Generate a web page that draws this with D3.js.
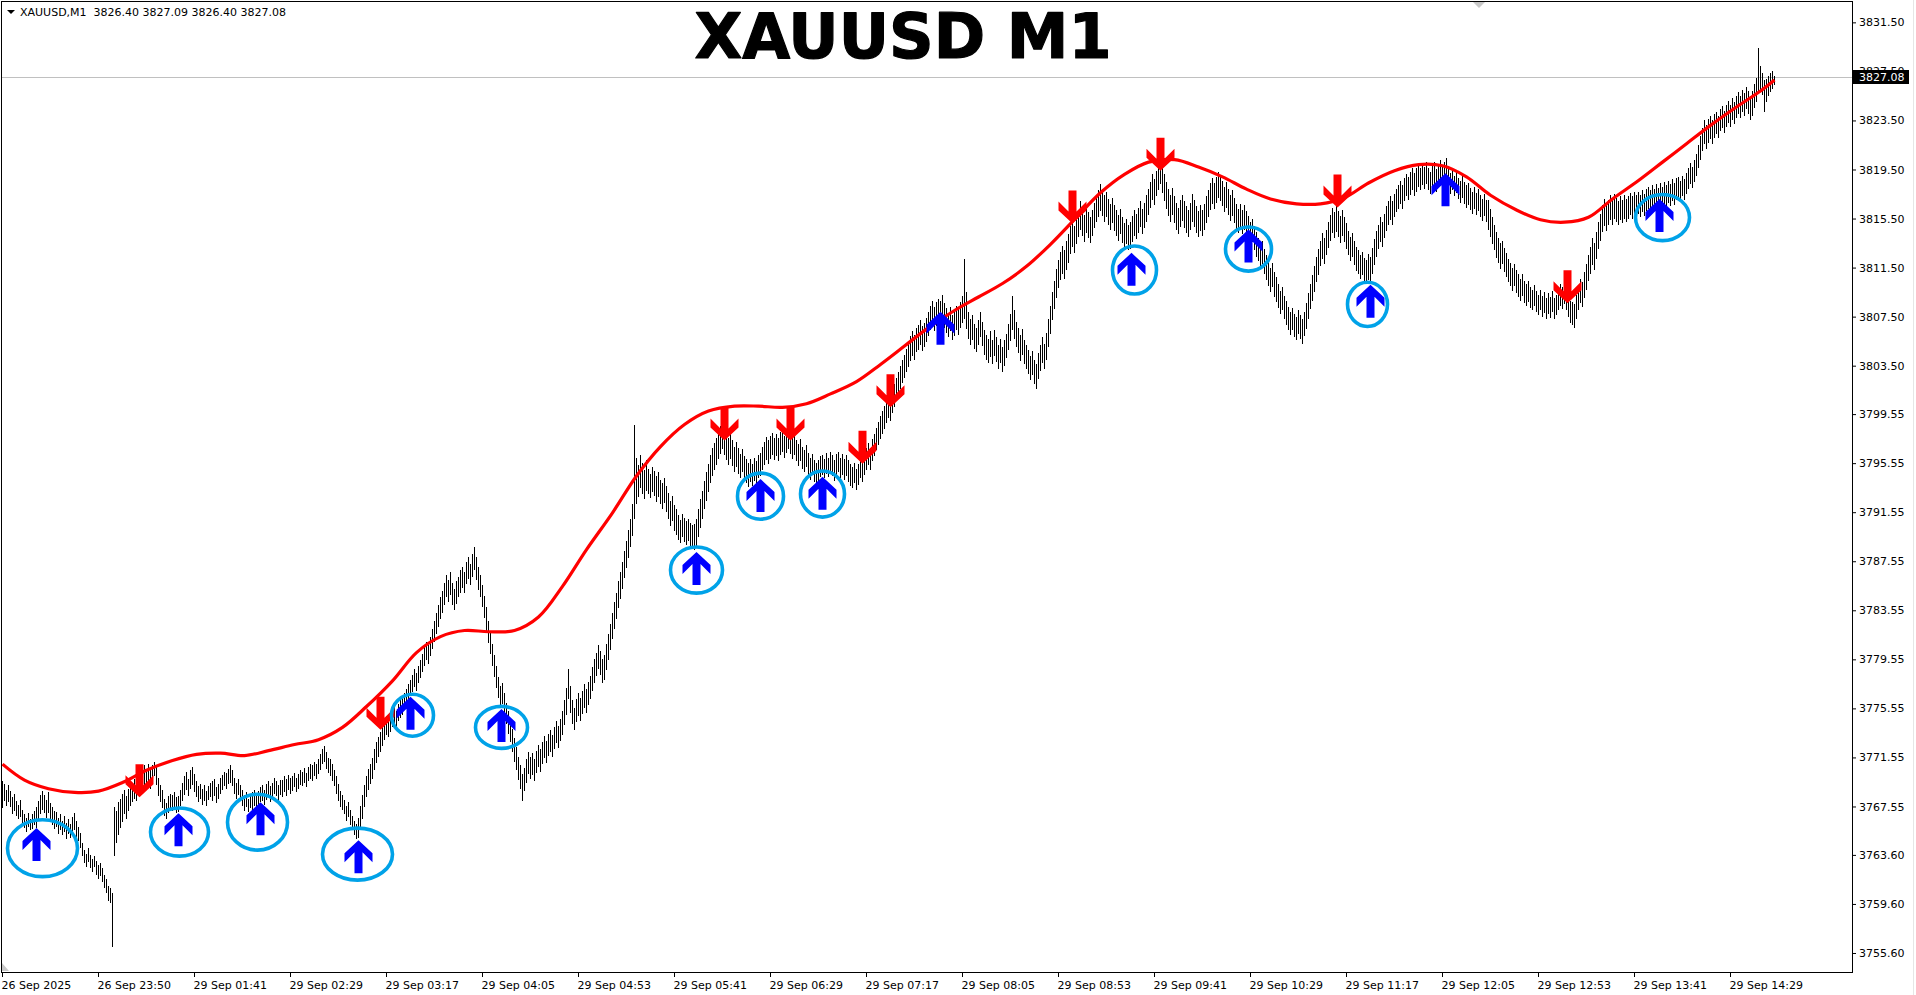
<!DOCTYPE html>
<html lang="en">
<head>
<meta charset="UTF-8">
<title>XAUUSD M1</title>
<script src="https://cdnjs.cloudflare.com/ajax/libs/d3/7.8.5/d3.min.js"></script>
<style>
  html, body { margin: 0; padding: 0; background: #fff; overflow: hidden; }
  svg { display: block; }
  text { font-family: 'DejaVu Sans', sans-serif; }
</style>
</head>
<body>
<svg id="chart" width="1916" height="995"></svg>
<script>
const symbol = "XAUUSD,M1";
const title = "XAUUSD M1";
const lastQuote = [3826.40, 3827.09, 3826.40, 3827.08]; // O H L C of last bar

const timeLabels = ["26 Sep 2025", "26 Sep 23:50", "29 Sep 01:41", "29 Sep 02:29", "29 Sep 03:17",
  "29 Sep 04:05", "29 Sep 04:53", "29 Sep 05:41", "29 Sep 06:29", "29 Sep 07:17", "29 Sep 08:05",
  "29 Sep 08:53", "29 Sep 09:41", "29 Sep 10:29", "29 Sep 11:17", "29 Sep 12:05", "29 Sep 12:53",
  "29 Sep 13:41", "29 Sep 14:29"];
const barsPerLabel = 48;

const priceTicks = [3831.50, 3827.50, 3823.50, 3819.50, 3815.50, 3811.50, 3807.50, 3803.50,
  3799.55, 3795.55, 3791.55, 3787.55, 3783.55, 3779.55, 3775.55, 3771.55, 3767.55,
  3763.60, 3759.60, 3755.60];

// M1 bar lows / highs, one entry per minute bar
const lows = [
3767.4,3768.0,3767.6,3767.9,3767.5,3766.9,3767.2,3766.8,3766.5,3766.7,
3766.2,3765.8,3765.5,3765.9,3765.6,3765.7,3766.0,3765.8,3766.4,3766.9,
3767.3,3767.0,3766.6,3767.0,3766.5,3766.0,3765.7,3765.9,3765.3,3765.6,
3765.2,3765.5,3764.9,3765.3,3765.0,3765.3,3765.6,3765.1,3764.7,3764.2,
3763.5,3762.9,3762.6,3763.0,3762.5,3762.2,3762.6,3762.0,3761.6,3761.9,
3761.4,3760.9,3760.5,3759.8,3759.7,3756.1,3763.5,3764.6,3765.2,3765.8,
3766.3,3766.9,3766.5,3767.2,3767.6,3767.9,3768.2,3768.0,3768.4,3768.6,
3768.8,3769.2,3768.9,3769.4,3769.0,3769.5,3770.0,3769.3,3768.4,3767.9,
3767.4,3766.8,3766.5,3767.0,3767.3,3767.2,3767.5,3767.0,3767.1,3767.6,
3768.0,3768.5,3768.9,3768.4,3769.0,3769.3,3768.7,3768.3,3767.9,3768.2,
3767.7,3768.0,3767.6,3768.1,3768.3,3768.0,3768.4,3767.8,3768.2,3768.6,
3768.9,3769.2,3769.0,3769.4,3769.5,3769.2,3768.6,3768.2,3768.5,3768.0,
3767.6,3767.2,3767.5,3767.1,3767.4,3767.3,3767.6,3767.2,3767.5,3767.9,
3768.0,3767.7,3768.1,3768.3,3767.9,3768.2,3768.6,3768.4,3768.0,3768.5,
3768.3,3768.7,3768.4,3768.9,3768.6,3768.8,3769.1,3768.7,3769.0,3769.3,
3769.2,3769.5,3769.1,3769.6,3769.8,3769.6,3770.0,3769.8,3770.2,3770.5,
3771.0,3771.2,3770.6,3770.3,3770.0,3769.6,3769.2,3768.6,3768.0,3767.5,
3767.3,3766.9,3766.4,3766.7,3766.0,3765.6,3765.2,3764.9,3765.0,3765.8,
3766.5,3767.5,3768.3,3768.9,3769.4,3769.8,3770.5,3771.1,3771.6,3772.0,
3772.5,3773.0,3773.4,3773.2,3773.6,3774.0,3774.3,3774.0,3774.5,3774.8,
3775.0,3775.4,3775.8,3776.2,3776.6,3776.9,3777.3,3777.0,3777.6,3778.0,
3778.5,3779.0,3779.5,3779.2,3779.8,3780.4,3781.0,3781.6,3782.2,3782.8,
3783.3,3784.0,3784.6,3784.2,3784.8,3784.0,3783.6,3784.1,3784.6,3785.0,
3785.4,3785.0,3785.7,3786.1,3785.6,3786.3,3786.8,3786.0,3785.2,3784.6,
3783.8,3782.9,3781.9,3780.9,3780.0,3779.0,3778.1,3777.2,3776.4,3775.7,
3775.9,3775.0,3774.3,3773.5,3772.8,3772.0,3771.2,3770.5,3769.7,3769.0,
3768.0,3768.8,3769.5,3770.2,3769.8,3770.1,3769.6,3770.3,3770.8,3770.4,
3771.0,3771.5,3771.1,3771.7,3772.0,3771.6,3772.2,3772.7,3772.3,3772.9,
3773.4,3774.2,3775.0,3776.3,3775.2,3774.3,3773.8,3774.4,3774.9,3774.5,
3775.1,3775.6,3775.2,3775.8,3776.3,3777.0,3777.6,3778.2,3778.8,3778.3,
3777.6,3777.9,3778.7,3779.5,3780.3,3781.2,3782.0,3782.8,3783.7,3784.5,
3785.3,3786.2,3787.0,3787.8,3788.7,3789.6,3791.0,3792.2,3792.8,3793.5,
3793.0,3792.6,3793.3,3793.0,3792.7,3793.2,3792.9,3792.4,3792.8,3792.2,
3791.8,3792.3,3791.6,3791.0,3790.4,3790.8,3790.0,3789.7,3789.3,3789.0,
3789.5,3789.1,3788.9,3789.2,3788.8,3788.6,3788.5,3788.7,3789.5,3790.3,
3791.0,3791.8,3792.5,3793.2,3793.9,3794.5,3795.0,3795.4,3795.9,3796.3,
3796.7,3796.2,3795.8,3795.4,3795.9,3795.3,3794.8,3795.2,3794.7,3794.3,
3794.8,3794.2,3793.9,3793.6,3794.0,3793.7,3794.1,3793.8,3794.3,3794.5,
3795.0,3795.4,3795.8,3795.5,3795.9,3796.2,3795.8,3796.1,3795.7,3796.2,
3796.5,3796.0,3796.4,3796.7,3796.3,3795.9,3796.2,3795.7,3795.3,3795.7,
3795.1,3794.8,3795.2,3794.6,3794.2,3794.6,3794.0,3793.8,3794.1,3794.4,
3794.6,3794.3,3794.7,3794.4,3794.8,3794.5,3794.1,3794.5,3794.8,3794.3,
3794.6,3794.2,3794.5,3794.0,3793.7,3793.5,3793.9,3793.4,3793.8,3794.3,
3794.0,3794.6,3795.0,3795.4,3795.0,3795.7,3796.1,3796.6,3797.0,3797.5,
3797.9,3798.3,3798.8,3799.2,3799.0,3799.6,3800.1,3800.6,3801.1,3801.6,
3802.1,3802.5,3803.0,3803.4,3803.9,3804.3,3804.0,3804.6,3804.8,3805.2,
3804.7,3805.0,3805.4,3805.9,3806.4,3806.8,3806.3,3806.7,3807.0,3806.8,
3807.2,3806.6,3806.2,3805.8,3806.3,3805.6,3805.9,3806.4,3806.0,3806.6,
3807.0,3807.3,3806.5,3805.7,3805.2,3805.6,3804.9,3804.6,3805.2,3805.8,
3805.1,3804.4,3804.0,3803.7,3804.2,3803.6,3804.3,3803.8,3803.2,3803.7,
3803.0,3803.5,3804.1,3804.8,3805.5,3806.4,3805.7,3805.0,3804.5,3803.9,
3804.4,3803.6,3803.2,3802.8,3802.3,3802.7,3802.0,3801.6,3802.4,3803.1,
3803.7,3803.2,3804.0,3805.0,3806.1,3807.2,3808.1,3809.0,3809.8,3810.5,
3811.0,3810.6,3811.3,3811.9,3812.6,3813.2,3812.7,3813.4,3814.0,3814.6,
3814.1,3813.6,3814.3,3813.9,3813.5,3814.1,3814.7,3815.2,3815.6,3816.1,
3815.7,3815.2,3815.6,3815.0,3814.6,3815.1,3814.5,3814.1,3813.7,3814.2,
3813.5,3813.0,3813.4,3812.9,3813.0,3813.6,3814.1,3813.8,3814.3,3814.8,
3814.2,3814.7,3815.2,3815.8,3816.4,3817.0,3816.6,3817.3,3817.8,3818.3,
3817.6,3816.9,3816.3,3815.7,3815.2,3815.8,3815.1,3814.6,3814.2,3814.8,
3815.3,3814.7,3814.3,3814.0,3814.6,3815.2,3814.8,3814.3,3814.0,3814.5,
3814.1,3814.6,3815.1,3815.6,3816.2,3816.7,3816.3,3816.8,3817.2,3816.9,
3816.5,3816.0,3816.4,3815.8,3815.3,3815.7,3815.1,3814.6,3814.3,3814.7,
3814.2,3814.6,3814.3,3813.8,3813.2,3813.6,3812.9,3812.4,3812.0,3811.4,
3811.8,3811.0,3810.5,3810.0,3809.5,3809.9,3809.1,3808.7,3808.2,3807.7,
3808.0,3807.3,3806.8,3806.4,3806.0,3806.4,3805.8,3805.6,3806.1,3805.7,
3805.3,3805.9,3806.5,3807.3,3808.1,3808.8,3809.5,3810.3,3810.9,3811.6,
3812.2,3811.8,3812.5,3813.1,3813.7,3814.3,3813.9,3814.4,3814.0,3813.5,
3814.1,3813.6,3813.0,3812.5,3812.0,3812.4,3811.7,3811.2,3811.0,3810.6,
3810.9,3810.4,3810.2,3810.5,3810.3,3811.0,3811.7,3812.4,3813.0,3813.6,
3813.2,3813.9,3814.5,3815.0,3815.4,3815.0,3815.6,3816.0,3816.3,3816.7,
3816.3,3816.9,3817.3,3817.0,3817.4,3817.8,3817.3,3817.7,3818.1,3817.8,
3818.2,3817.9,3818.3,3817.8,3817.5,3817.9,3818.2,3817.7,3818.1,3818.4,
3817.9,3818.2,3818.6,3817.9,3817.5,3817.8,3817.3,3817.6,3817.1,3816.8,
3817.2,3816.7,3816.4,3816.6,3816.2,3815.9,3816.3,3815.8,3816.1,3815.6,
3815.3,3815.7,3815.2,3814.6,3814.0,3813.4,3812.9,3812.3,3811.9,3811.4,
3811.8,3811.1,3810.7,3810.3,3810.0,3809.6,3810.0,3809.4,3809.1,3808.8,
3809.2,3808.6,3808.4,3808.7,3808.2,3808.0,3808.4,3807.9,3807.6,3808.0,
3807.5,3807.8,3807.3,3807.7,3807.4,3807.9,3807.3,3807.6,3808.0,3808.4,
3808.1,3808.5,3808.0,3807.5,3807.0,3806.8,3806.6,3807.3,3808.0,3808.6,
3808.3,3809.0,3809.7,3810.4,3811.0,3811.7,3811.3,3812.2,3813.0,3813.7,
3814.4,3814.9,3814.5,3815.0,3815.4,3815.0,3815.5,3815.2,3815.0,3815.4,
3815.1,3815.5,3815.2,3815.5,3815.8,3815.5,3815.9,3815.6,3815.9,3815.6,
3816.0,3815.7,3816.1,3816.3,3816.0,3816.4,3816.1,3816.5,3816.2,3816.6,
3816.3,3816.7,3816.4,3816.8,3816.5,3816.9,3816.6,3817.0,3817.2,3816.9,
3817.3,3817.0,3817.5,3817.9,3818.3,3818.0,3818.5,3819.0,3819.6,3820.3,
3821.0,3821.6,3821.2,3821.7,3822.0,3821.6,3822.1,3822.4,3822.1,3822.6,
3822.9,3822.5,3823.0,3823.3,3823.0,3823.5,3823.2,3823.7,3824.0,3823.7,
3824.2,3823.9,3824.4,3824.0,3823.5,3823.9,3824.5,3825.0,3825.8,3826.0,
3825.6,3824.2,3825.0,3825.5,3825.8,3826.1,3826.40];
const highs = [
3769.6,3769.4,3768.9,3769.3,3768.8,3768.3,3768.6,3768.0,3767.7,3768.1,
3767.3,3766.9,3766.6,3767.0,3766.5,3766.9,3767.2,3767.5,3768.0,3768.5,
3768.8,3768.5,3768.1,3768.7,3767.8,3767.5,3767.2,3767.1,3766.6,3766.9,
3766.4,3766.8,3766.2,3766.5,3766.1,3766.7,3767.0,3766.4,3765.9,3765.4,
3764.6,3764.0,3763.7,3764.2,3763.6,3763.3,3763.5,3763.1,3762.8,3762.9,
3762.5,3762.0,3761.6,3761.1,3760.9,3760.5,3767.5,3767.2,3767.9,3768.2,
3768.6,3768.9,3768.4,3769.0,3769.4,3769.5,3769.8,3769.3,3770.0,3770.2,
3770.6,3770.9,3770.4,3771.0,3770.6,3770.9,3771.2,3770.8,3769.9,3769.3,
3768.9,3768.2,3767.8,3768.4,3768.6,3768.5,3768.7,3768.3,3768.4,3768.9,
3769.5,3770.0,3770.4,3769.8,3770.5,3770.8,3770.2,3769.6,3769.2,3769.4,
3769.0,3769.3,3768.8,3769.2,3769.5,3769.6,3769.8,3769.1,3769.4,3769.9,
3770.1,3770.4,3770.3,3770.6,3770.9,3770.5,3769.9,3769.5,3769.8,3769.3,
3768.9,3768.5,3768.7,3768.2,3768.6,3768.7,3768.9,3768.4,3768.8,3769.1,
3769.3,3768.9,3769.4,3769.6,3769.2,3769.5,3769.9,3769.6,3769.3,3769.7,
3769.7,3770.0,3769.8,3770.1,3769.9,3770.0,3770.3,3769.9,3770.2,3770.5,
3770.4,3770.7,3770.3,3770.8,3771.0,3770.9,3771.2,3771.0,3771.4,3771.8,
3772.2,3772.5,3772.0,3771.5,3771.4,3771.0,3770.5,3770.0,3769.4,3768.8,
3768.5,3768.1,3767.6,3767.9,3767.3,3766.8,3766.4,3766.1,3766.6,3767.6,
3768.5,3769.3,3770.0,3770.6,3771.0,3771.5,3772.2,3772.8,3773.2,3773.6,
3774.0,3774.5,3774.9,3774.6,3775.1,3775.4,3775.7,3775.3,3775.9,3776.2,
3776.4,3776.8,3777.1,3777.5,3777.9,3778.3,3778.8,3778.4,3779.0,3779.5,
3780.0,3780.6,3781.0,3780.7,3781.4,3782.0,3782.7,3783.3,3784.0,3784.6,
3785.1,3785.8,3786.4,3786.0,3786.7,3785.8,3785.3,3785.9,3786.3,3786.8,
3787.1,3786.7,3787.5,3787.9,3787.3,3788.1,3788.7,3787.9,3787.1,3786.4,
3785.6,3784.7,3783.8,3782.7,3781.8,3780.8,3779.9,3779.0,3778.1,3777.4,
3777.6,3776.8,3776.0,3775.3,3774.6,3773.9,3773.1,3772.4,3771.6,3770.9,
3770.2,3770.7,3771.4,3772.0,3771.6,3771.9,3771.4,3772.1,3772.6,3772.2,
3772.8,3773.3,3772.9,3773.5,3773.8,3773.4,3774.0,3774.5,3774.1,3774.7,
3775.3,3776.2,3777.2,3778.8,3777.4,3776.2,3775.6,3776.3,3776.8,3776.4,
3777.0,3777.5,3777.1,3777.7,3778.2,3778.9,3779.6,3780.1,3780.7,3780.2,
3779.6,3779.9,3780.8,3781.6,3782.4,3783.3,3784.2,3785.0,3785.9,3786.7,
3787.5,3788.4,3789.2,3790.1,3791.0,3792.2,3798.7,3796.0,3795.4,3796.2,
3795.6,3795.0,3795.8,3795.1,3794.7,3795.2,3794.9,3794.5,3794.8,3794.2,
3793.9,3794.3,3793.7,3793.1,3792.5,3792.9,3792.1,3791.8,3791.3,3790.9,
3791.4,3791.1,3790.8,3791.0,3790.7,3790.5,3790.6,3791.0,3791.8,3792.6,
3793.3,3794.1,3794.8,3795.5,3796.2,3796.8,3797.2,3797.6,3798.1,3798.6,
3798.9,3798.4,3797.9,3797.6,3798.1,3797.4,3796.9,3797.3,3796.8,3796.3,
3796.7,3796.1,3795.9,3795.6,3795.9,3795.5,3796.0,3795.7,3796.2,3796.4,
3796.9,3797.3,3797.7,3797.4,3797.8,3798.0,3797.6,3797.9,3797.6,3798.1,
3798.3,3797.8,3798.2,3798.4,3798.0,3797.6,3797.9,3797.4,3797.1,3797.5,
3796.9,3796.6,3797.0,3796.4,3796.0,3796.3,3795.8,3795.6,3795.8,3796.1,
3796.2,3795.9,3796.4,3796.0,3796.5,3796.2,3795.8,3796.3,3796.5,3796.0,
3796.3,3795.9,3796.2,3795.8,3795.5,3795.2,3795.6,3795.1,3795.5,3796.0,
3795.7,3796.3,3796.8,3797.2,3796.8,3797.5,3797.9,3798.4,3798.9,3799.4,
3799.8,3800.2,3800.7,3801.1,3800.9,3801.5,3802.0,3802.5,3803.0,3803.5,
3804.0,3804.4,3804.9,3805.4,3805.9,3806.3,3806.0,3806.6,3806.8,3807.2,
3806.7,3807.0,3807.4,3807.9,3808.4,3808.8,3808.3,3808.7,3808.9,3808.8,
3809.3,3808.6,3808.2,3807.8,3808.3,3807.6,3807.9,3808.4,3808.1,3808.7,
3809.2,3812.2,3809.5,3807.9,3807.3,3807.6,3806.9,3806.6,3807.2,3807.9,
3807.1,3806.4,3806.0,3805.7,3806.3,3805.6,3806.4,3805.8,3805.2,3805.7,
3805.0,3805.6,3806.1,3806.9,3807.7,3809.2,3808.0,3807.1,3806.6,3806.0,
3806.5,3805.6,3805.2,3804.8,3804.3,3804.7,3804.0,3803.6,3804.5,3805.2,
3805.8,3805.3,3806.2,3807.3,3808.4,3809.5,3810.4,3811.4,3812.1,3812.8,
3813.3,3812.9,3813.7,3814.2,3814.9,3815.4,3814.9,3815.7,3816.2,3816.9,
3816.3,3815.8,3816.5,3816.0,3815.6,3816.2,3816.8,3817.3,3817.8,3818.3,
3817.9,3817.4,3817.7,3817.1,3816.7,3817.2,3816.6,3816.2,3815.8,3816.3,
3815.6,3815.1,3815.5,3815.0,3815.2,3815.7,3816.2,3815.9,3816.4,3816.9,
3816.3,3816.8,3817.4,3817.9,3818.5,3819.1,3818.7,3819.4,3820.0,3820.6,
3819.8,3819.1,3818.5,3817.9,3817.4,3818.0,3817.3,3816.8,3816.4,3817.0,
3817.4,3816.9,3816.5,3816.2,3816.8,3817.5,3817.0,3816.5,3816.1,3816.6,
3816.2,3816.7,3817.3,3817.8,3818.4,3818.8,3818.4,3818.9,3819.3,3819.0,
3818.6,3818.1,3818.5,3817.9,3817.4,3817.8,3817.2,3816.7,3816.3,3816.7,
3816.2,3816.6,3816.1,3815.7,3815.2,3815.5,3814.9,3814.4,3813.9,3813.4,
3813.7,3813.0,3812.5,3812.0,3811.5,3811.9,3811.1,3810.7,3810.2,3809.6,
3809.9,3809.2,3808.8,3808.3,3807.9,3808.2,3807.7,3807.5,3808.0,3807.6,
3807.3,3807.9,3808.6,3809.4,3810.2,3810.9,3811.6,3812.4,3813.0,3813.7,
3814.3,3813.9,3814.6,3815.2,3815.8,3816.4,3816.0,3816.6,3816.1,3815.7,
3816.2,3815.6,3815.1,3814.5,3814.0,3814.3,3813.7,3813.2,3812.9,3812.5,
3812.8,3812.3,3812.1,3812.6,3812.4,3813.1,3813.8,3814.5,3815.0,3815.6,
3815.2,3815.9,3816.5,3816.9,3817.3,3816.9,3817.5,3817.9,3818.2,3818.6,
3818.2,3818.8,3819.1,3818.9,3819.3,3819.6,3819.2,3819.6,3819.9,3819.6,
3820.0,3819.7,3820.1,3819.6,3819.3,3819.8,3820.1,3819.5,3819.9,3820.3,
3819.8,3820.1,3820.4,3819.6,3819.2,3819.5,3819.0,3819.3,3818.8,3818.6,
3819.0,3818.5,3818.2,3818.4,3818.0,3817.7,3818.1,3817.6,3817.9,3817.4,
3817.1,3817.5,3817.0,3817.0,3816.3,3815.6,3815.0,3814.4,3813.9,3813.5,
3813.7,3813.1,3812.7,3812.2,3811.9,3811.5,3811.8,3811.3,3811.0,3810.6,
3811.0,3810.4,3810.2,3810.4,3809.9,3809.7,3810.1,3809.6,3809.3,3809.7,
3809.2,3809.5,3809.0,3809.4,3809.1,3809.6,3809.0,3809.3,3809.8,3810.2,
3809.9,3810.3,3809.8,3809.3,3808.8,3808.7,3808.5,3809.3,3810.0,3810.6,
3810.3,3811.1,3811.8,3812.5,3813.2,3813.9,3813.5,3814.4,3815.2,3815.9,
3816.6,3817.1,3816.7,3817.0,3817.4,3817.0,3817.5,3817.2,3816.9,3817.3,
3817.0,3817.4,3817.1,3817.3,3817.6,3817.3,3817.7,3817.4,3817.7,3817.4,
3817.8,3817.5,3817.9,3818.1,3817.8,3818.2,3817.9,3818.3,3818.0,3818.4,
3818.1,3818.5,3818.2,3818.6,3818.3,3818.7,3818.4,3818.8,3818.9,3818.6,
3819.0,3818.7,3819.2,3819.6,3820.0,3819.7,3820.3,3820.8,3821.5,3822.2,
3822.9,3823.5,3823.1,3823.6,3823.9,3823.5,3824.0,3824.2,3823.9,3824.4,
3824.7,3824.3,3824.8,3825.1,3824.8,3825.3,3825.0,3825.5,3825.8,3825.5,
3826.0,3825.7,3826.2,3825.9,3825.5,3825.9,3826.5,3827.0,3829.4,3827.9,
3827.4,3826.8,3826.9,3827.1,3827.4,3827.5,3827.09];

// smooth red line: bar index -> value
const maIdx = [0,11,23,36,48,60,72,85,97,109,121,133,146,158,170,182,195,207,219,231,
  243,256,268,280,292,305,317,329,341,353,366,378,390,402,414,427,439,451,463,476,
  488,500,512,524,537,549,561,573,586,598,610,622,634,647,659,671,683,696,708,720,
  732,744,757,769,781,793,805,818,830,842,854,867,879,886];
const maVal = [3771.0,3769.7,3769.0,3768.7,3768.8,3769.5,3770.5,3771.3,3771.8,3771.9,
  3771.7,3772.1,3772.6,3773.0,3774.0,3775.7,3777.8,3780.1,3781.4,3781.9,
  3781.8,3781.9,3783.0,3785.5,3788.5,3791.5,3794.5,3796.9,3798.7,3799.8,
  3800.2,3800.2,3800.1,3800.4,3801.2,3802.2,3803.6,3805.1,3806.6,3808.0,
  3809.1,3810.2,3811.6,3813.4,3815.6,3817.6,3819.1,3820.1,3820.3,3819.7,
  3818.9,3817.9,3817.1,3816.7,3816.7,3817.2,3818.4,3819.4,3819.9,3819.8,
  3818.9,3817.4,3816.2,3815.4,3815.2,3815.6,3817.1,3818.6,3820.1,3821.6,
  3823.1,3824.6,3825.9,3826.8];

// signals: [bar index, price at arrow tip]
const sellArrows = [[68.5,3768.3],[189,3773.8],[361,3797.4],[394,3797.4],[430,3795.5],
  [444,3800.1],[535,3815.1],[579,3819.4],[667.5,3816.4],[782.5,3808.6]];
const buyArrows = [[17,3765.8],[88,3767.0],[129,3767.9],[178,3764.8],[204,3776.5],
  [249.5,3775.5],[347,3788.3],[379,3794.25],[410,3794.45],[469,3807.9],[564.5,3812.7],
  [623,3814.6],[684,3810.1],[721.5,3819.2],[828.5,3817.1]];
// marked ellipses: [bar index, price, half width in bars, half height in price]
const rings = [[20,3764.15,17.5,2.32],[88.5,3765.46,14.5,1.96],[127.5,3766.27,15,2.28],
  [177.5,3763.66,17.5,2.12],[205,3774.99,10.5,1.71],[249.5,3774.0,13,1.71],
  [347,3786.83,13,1.88],[379,3792.86,11.5,1.88],[410,3793.03,11,1.88],
  [566,3811.3,11,1.96],[623,3813.01,11.5,1.8],[682.5,3808.5,10,1.8],[830,3815.58,13.5,1.88]];

const W = 1916, H = 995;
const P = {left: 1, top: 1, right: 1852, bottom: 972};

const svg = d3.select("#chart");
svg.append("rect").attr("width", W).attr("height", H).attr("fill", "#fff");

const x = d3.scaleLinear().domain([0, 925]).range([2, 1852]);
const y = d3.scaleLinear().domain([3754.05, 3833.16]).range([972, 2]);

svg.append("clipPath").attr("id", "plotclip")
  .append("rect").attr("x", P.left + 1).attr("y", P.top + 1)
  .attr("width", P.right - P.left - 1).attr("height", P.bottom - P.top - 1);

const plot = svg.append("g").attr("clip-path", "url(#plotclip)");

// current price line
const last = lastQuote[3];
plot.append("line")
  .attr("x1", P.left).attr("x2", P.right)
  .attr("y1", Math.round(y(last)) + 0.5).attr("y2", Math.round(y(last)) + 0.5)
  .attr("stroke", "#c0c0c0").attr("stroke-width", 1);

// bars
plot.append("g").attr("shape-rendering", "crispEdges")
  .selectAll("rect")
  .data(lows)
  .join("rect")
  .attr("x", (d, i) => x(i))
  .attr("y", (d, i) => Math.round(y(highs[i])))
  .attr("width", 1)
  .attr("height", (d, i) => Math.max(1, Math.round(y(d)) - Math.round(y(highs[i]))))
  .attr("fill", "#000");

// red smooth line
const maData = maIdx.map((b, k) => [b, maVal[k]]);
plot.append("path")
  .datum(maData)
  .attr("fill", "none")
  .attr("stroke", "#ff0000")
  .attr("stroke-width", 3.2)
  .attr("d", d3.line().x(d => x(d[0]) + 0.5).y(d => y(d[1])).curve(d3.curveCatmullRom.alpha(0.5)));

// arrows
const arrowShape = [[0,0],[14,13],[14,22],[4,12],[4,33],[-4,33],[-4,12],[-14,22],[-14,13]];
function arrowPath(cx, ty, dir) {
  return "M" + arrowShape.map(p => [cx + p[0], ty + dir * p[1]].join(",")).join("L") + "Z";
}
plot.append("g").selectAll("path")
  .data(sellArrows)
  .join("path")
  .attr("d", d => arrowPath(x(d[0]) + 0.5, y(d[1]), -1))
  .attr("fill", "#ff0000");
plot.append("g").selectAll("path")
  .data(buyArrows)
  .join("path")
  .attr("d", d => arrowPath(x(d[0]) + 0.5, y(d[1]), 1))
  .attr("fill", "#0000ff");

// rings
plot.append("g").selectAll("ellipse")
  .data(rings)
  .join("ellipse")
  .attr("cx", d => x(d[0]) + 0.5)
  .attr("cy", d => y(d[1]))
  .attr("rx", d => x(d[2]) - x(0))
  .attr("ry", d => y(0) - y(d[3]))
  .attr("fill", "none")
  .attr("stroke", "#00a2e8")
  .attr("stroke-width", 3.6);

// frame
svg.append("rect")
  .attr("x", P.left + 0.5).attr("y", P.top + 0.5)
  .attr("width", P.right - P.left).attr("height", P.bottom - P.top)
  .attr("fill", "none").attr("stroke", "#000").attr("shape-rendering", "crispEdges");

// price axis
const yAxis = svg.append("g")
  .attr("transform", `translate(${P.right},0)`)
  .call(d3.axisRight(y).tickValues(priceTicks).tickFormat(d3.format(".2f")).tickSize(4).tickPadding(3));
yAxis.select(".domain").remove();
yAxis.selectAll("text").attr("font-size", 11).attr("font-family", "'DejaVu Sans', sans-serif").attr("fill", "#000");
yAxis.selectAll("line").attr("stroke", "#000");

// time axis
const xAxis = svg.append("g")
  .attr("transform", `translate(0,${P.bottom})`)
  .call(d3.axisBottom(x)
    .tickValues(timeLabels.map((t, k) => k * barsPerLabel))
    .tickFormat((d, k) => timeLabels[k])
    .tickSize(5).tickPadding(4));
xAxis.select(".domain").remove();
xAxis.selectAll("text").attr("font-size", 11).attr("font-family", "'DejaVu Sans', sans-serif")
  .attr("fill", "#000").attr("text-anchor", "start").attr("dx", -1);
xAxis.selectAll("line").attr("stroke", "#000");

// last price label
const ly = Math.round(y(last));
svg.append("rect").attr("x", P.right + 1).attr("y", ly - 7).attr("width", 56).attr("height", 14).attr("fill", "#000");
svg.append("text").attr("x", P.right + 7).attr("y", ly + 4).attr("font-size", 11)
  .attr("fill", "#fff").text(d3.format(".2f")(last));

// header
svg.append("path").attr("d", "M7,10L15,10L11,14Z").attr("fill", "#000");
svg.append("text").attr("x", 20).attr("y", 15.5).attr("font-size", 11).attr("fill", "#000")
  .attr("xml:space", "preserve")
  .text(symbol + "  " + lastQuote.map(d3.format(".2f")).join(" "));

// title
svg.append("text").attr("x", 903).attr("y", 58).attr("text-anchor", "middle")
  .attr("font-size", 62).attr("font-weight", "bold").attr("fill", "#000")
  .attr("stroke", "#000").attr("stroke-width", 1.2).attr("stroke-linejoin", "round")
  .text(title);

// small markers
svg.append("path").attr("d", "M1473,2L1485,2L1479,8Z").attr("fill", "#c8c8c8");
svg.append("path").attr("d", "M2,963L2,971L9,971Z").attr("fill", "#c8c8c8");
svg.append("line").attr("x1", 1913.5).attr("x2", 1913.5).attr("y1", 0).attr("y2", H)
  .attr("stroke", "#e6e6e6");
</script>
</body>
</html>
